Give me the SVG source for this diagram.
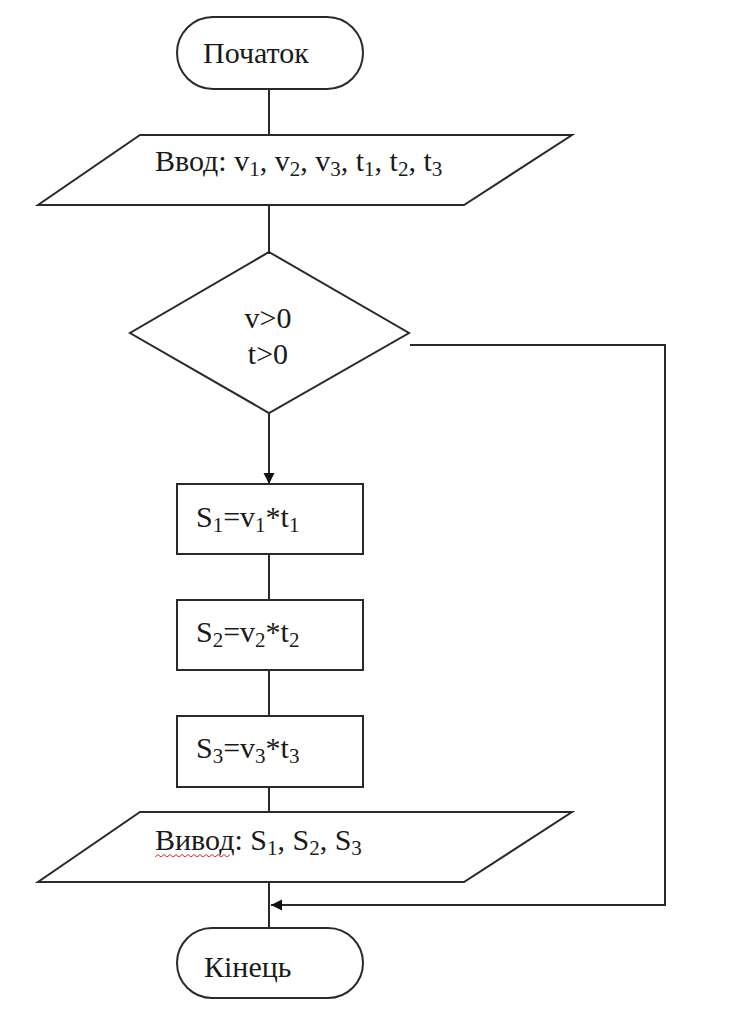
<svg xmlns="http://www.w3.org/2000/svg" width="738" height="1024" viewBox="0 0 738 1024">
<style>
.shape{fill:#fff;stroke:#2a2a2a;stroke-width:2}
.conn{fill:none;stroke:#2a2a2a;stroke-width:2}
text{font-family:"Liberation Serif","Times New Roman",serif;font-size:30px;fill:#1a1a1a}
.sub{font-size:21px}
</style>
<defs>
<marker id="arr" markerWidth="13" markerHeight="13" refX="11" refY="5.5" orient="auto" markerUnits="userSpaceOnUse">
<path d="M0,0 L11,5.5 L0,11 Z" fill="#111"/>
</marker>
</defs>
<rect width="738" height="1024" fill="#fff"/>
<g id="connectors">
<line class="conn" x1="269" y1="89" x2="269" y2="135"/>
<line class="conn" x1="269" y1="205" x2="269" y2="252"/>
<line class="conn" x1="269" y1="413" x2="269" y2="484" marker-end="url(#arr)"/>
<line class="conn" x1="269" y1="554" x2="269" y2="600"/>
<line class="conn" x1="269" y1="670" x2="269" y2="716"/>
<line class="conn" x1="269" y1="787" x2="269" y2="812"/>
<line class="conn" x1="269" y1="882" x2="269" y2="928"/>
<polyline class="conn" points="410,345 665,345 665,905 271,905" marker-end="url(#arr)"/>
</g>
<g id="start">
<rect class="shape" x="177" y="17" width="186" height="72" rx="36" ry="36"/>
<text x="203" y="63">Початок</text>
</g>
<g id="input">
<polygon class="shape" points="140,135 572,135 464,205 38,205"/>
<text x="155" y="171">Ввод: v<tspan class="sub" dy="5">1</tspan><tspan dy="-5">, v</tspan><tspan class="sub" dy="5">2</tspan><tspan dy="-5">, v</tspan><tspan class="sub" dy="5">3</tspan><tspan dy="-5">, t</tspan><tspan class="sub" dy="5">1</tspan><tspan dy="-5">, t</tspan><tspan class="sub" dy="5">2</tspan><tspan dy="-5">, t</tspan><tspan class="sub" dy="5">3</tspan></text>
</g>
<g id="condition">
<polygon class="shape" points="269,252 409,333 269,413 130,333"/>
<text x="268" y="328" text-anchor="middle">v&gt;0</text>
<text x="268" y="364" text-anchor="middle">t&gt;0</text>
</g>
<g id="s1">
<rect class="shape" x="177" y="484" width="186" height="70"/>
<text x="196" y="527">S<tspan class="sub" dy="5">1</tspan><tspan dy="-5">=v</tspan><tspan class="sub" dy="5">1</tspan><tspan dy="-5">*t</tspan><tspan class="sub" dy="5">1</tspan></text>
</g>
<g id="s2">
<rect class="shape" x="177" y="600" width="186" height="70"/>
<text x="196" y="642">S<tspan class="sub" dy="5">2</tspan><tspan dy="-5">=v</tspan><tspan class="sub" dy="5">2</tspan><tspan dy="-5">*t</tspan><tspan class="sub" dy="5">2</tspan></text>
</g>
<g id="s3">
<rect class="shape" x="177" y="716" width="186" height="71"/>
<text x="196" y="758">S<tspan class="sub" dy="5">3</tspan><tspan dy="-5">=v</tspan><tspan class="sub" dy="5">3</tspan><tspan dy="-5">*t</tspan><tspan class="sub" dy="5">3</tspan></text>
</g>
<g id="output">
<polygon class="shape" points="140,812 572,812 464,882 38,882"/>
<text x="155" y="850">Вивод: S<tspan class="sub" dy="5">1</tspan><tspan dy="-5">, S</tspan><tspan class="sub" dy="5">2</tspan><tspan dy="-5">, S</tspan><tspan class="sub" dy="5">3</tspan></text>
<path d="M155,857 l3,-2.5 l3,2.5 l3,-2.5 l3,2.5 l3,-2.5 l3,2.5 l3,-2.5 l3,2.5 l3,-2.5 l3,2.5 l3,-2.5 l3,2.5 l3,-2.5 l3,2.5 l3,-2.5 l3,2.5 l3,-2.5 l3,2.5 l3,-2.5 l3,2.5 l3,-2.5 l3,2.5 l3,-2.5 l3,2.5 l3,-2.5" fill="none" stroke="#e03030" stroke-width="1"/>
</g>
<g id="end">
<rect class="shape" x="177" y="928" width="186" height="70" rx="35" ry="35"/>
<text x="204" y="977">Кінець</text>
</g>
</svg>
